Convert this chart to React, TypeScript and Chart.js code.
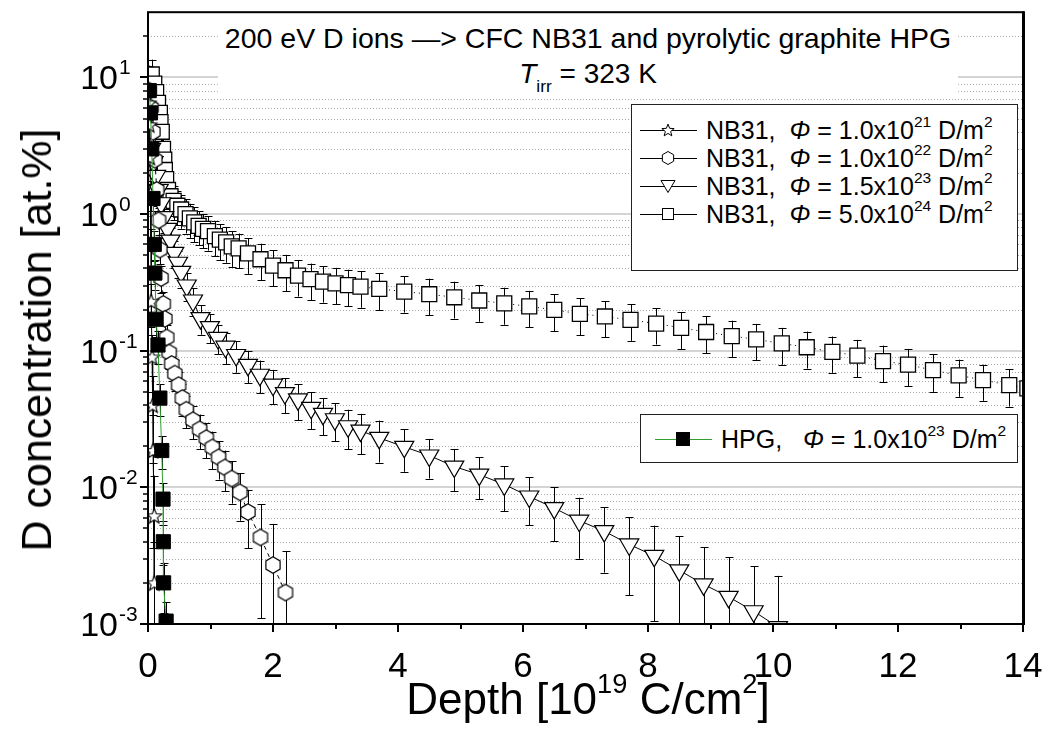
import React, { useEffect, useRef } from 'react';
import { Chart, registerables } from 'chart.js';
Chart.register(...registerables);

// ---------- data ----------
// NB31, Φ = 1.0x10^21 D/m^2 (stars)
const X_NB31_21 = [0.01, 0.02, 0.03, 0.04, 0.045, 0.05, 0.065, 0.075, 0.08, 0.1, 0.1];
const Y_NB31_21 = [6.5, 4.5, 2.6, 1.4, 0.6, 0.23, 0.09, 0.04, 0.0186, 0.0062, 0.002];
const E_NB31_21 = [1.5, 1.0, 0.6, 0.35, 0.18, 0.08, 0.04, 0.025, 0.015, 0.006, 0.002];

// NB31, Φ = 1.0x10^22 D/m^2 (hexagons)
const X_NB31_22 = [0.02, 0.05, 0.08, 0.11, 0.14, 0.17, 0.19, 0.21, 0.245, 0.27, 0.3, 0.34, 0.38, 0.43, 0.49, 0.55, 0.614, 0.72, 0.827, 0.934, 1.03, 1.13, 1.23, 1.34, 1.47, 1.6, 1.8, 2.0, 2.2];
const Y_NB31_22 = [8, 6, 4, 2.5, 1.5, 0.9, 0.55, 0.34, 0.22, 0.171, 0.125, 0.097, 0.08, 0.068, 0.056, 0.045, 0.037, 0.031, 0.0266, 0.0229, 0.0196, 0.0166, 0.014, 0.0116, 0.0092, 0.0066, 0.0043, 0.0027, 0.0017];
const E_NB31_22 = [2, 1.5, 1, 0.6, 0.35, 0.2, 0.12, 0.075, 0.05, 0.04, 0.03, 0.024, 0.02, 0.017, 0.014, 0.012, 0.01, 0.0085, 0.0075, 0.0066, 0.006, 0.0052, 0.0046, 0.004, 0.0035, 0.003, 0.0032, 0.0027, 0.0017];

// NB31, Φ = 1.5x10^23 D/m^2 (down triangles)
const X_NB31_23 = [0.02, 0.05, 0.09, 0.13, 0.17, 0.21, 0.26, 0.31, 0.36, 0.42, 0.48, 0.53, 0.62, 0.72, 0.84, 0.99, 1.12, 1.24, 1.41, 1.6, 1.79, 2.0, 2.19, 2.4, 2.61, 2.8, 2.99, 3.2, 3.4, 3.7, 4.1, 4.5, 4.9, 5.3, 5.7, 6.1, 6.5, 6.9, 7.3, 7.7, 8.1, 8.5, 8.89, 9.29, 9.69, 10.08];
const Y_NB31_23 = [3.5, 3.0, 2.4, 1.9, 1.5, 1.2, 0.95, 0.78, 0.64, 0.52, 0.44, 0.378, 0.3, 0.233, 0.173, 0.149, 0.124, 0.107, 0.093, 0.0787, 0.0667, 0.0564, 0.049, 0.044, 0.0382, 0.0345, 0.0315, 0.028, 0.026, 0.023, 0.0198, 0.0171, 0.0142, 0.0124, 0.0105, 0.00857, 0.00705, 0.0057, 0.00478, 0.00382, 0.00315, 0.00247, 0.00195, 0.00158, 0.00124, 0.00095];
const E_NB31_23 = [0.8, 0.7, 0.55, 0.45, 0.35, 0.28, 0.22, 0.18, 0.15, 0.12, 0.1, 0.09, 0.07, 0.055, 0.042, 0.036, 0.03, 0.027, 0.024, 0.021, 0.018, 0.016, 0.014, 0.013, 0.0115, 0.0105, 0.0097, 0.009, 0.0085, 0.0078, 0.0068, 0.0055, 0.0048, 0.0042, 0.0038, 0.0033, 0.003, 0.0027, 0.0024, 0.0022, 0.0021, 0.0019, 0.0017, 0.0015, 0.0014, 0.0013];

// NB31, Φ = 5.0x10^24 D/m^2 (squares)
const X_NB31_24 = [0.02, 0.06, 0.1, 0.13, 0.16, 0.19, 0.2, 0.22, 0.24, 0.26, 0.27, 0.29, 0.32, 0.36, 0.41, 0.47, 0.53, 0.6, 0.67, 0.74, 0.81, 0.88, 0.96, 1.07, 1.15, 1.25, 1.34, 1.45, 1.6, 1.8, 2.0, 2.2, 2.4, 2.6, 2.8, 3.0, 3.2, 3.4, 3.7, 4.1, 4.5, 4.9, 5.3, 5.7, 6.1, 6.5, 6.91, 7.31, 7.72, 8.13, 8.53, 8.93, 9.34, 9.73, 10.14, 10.54, 10.95, 11.35, 11.76, 12.16, 12.56, 12.97, 13.36, 13.78, 14.07];
const Y_NB31_24 = [9.5, 10.5, 9.0, 7.8, 6.5, 5.5, 4.7, 4.0, 3.0, 2.5, 2.1, 1.8, 1.5, 1.35, 1.25, 1.15, 1.08, 1.0, 0.93, 0.87, 0.82, 0.78, 0.75, 0.69, 0.65, 0.62, 0.58, 0.56, 0.515, 0.467, 0.42, 0.388, 0.354, 0.334, 0.32, 0.311, 0.302, 0.294, 0.283, 0.271, 0.259, 0.246, 0.233, 0.222, 0.211, 0.199, 0.186, 0.178, 0.168, 0.158, 0.147, 0.137, 0.128, 0.121, 0.113, 0.106, 0.098, 0.092, 0.084, 0.079, 0.072, 0.066, 0.061, 0.056, 0.053];
const E_NB31_24 = [2.7, 3.0, 2.5, 2.2, 1.8, 1.5, 1.3, 1.1, 0.85, 0.7, 0.6, 0.5, 0.42, 0.38, 0.35, 0.32, 0.3, 0.28, 0.26, 0.25, 0.23, 0.22, 0.21, 0.2, 0.19, 0.18, 0.17, 0.16, 0.15, 0.14, 0.125, 0.115, 0.105, 0.1, 0.095, 0.093, 0.09, 0.088, 0.085, 0.081, 0.078, 0.074, 0.07, 0.067, 0.063, 0.06, 0.056, 0.053, 0.05, 0.047, 0.044, 0.041, 0.038, 0.036, 0.034, 0.032, 0.029, 0.028, 0.025, 0.024, 0.022, 0.02, 0.018, 0.017, 0.016];

// HPG, Φ = 1.0x10^23 D/m^2 (filled squares)
const X_HPG = [0.02, 0.04, 0.06, 0.08, 0.1, 0.11, 0.13, 0.16, 0.19, 0.22, 0.24, 0.245, 0.25, 0.29];
const Y_HPG = [8, 5.5, 3, 1.3, 0.6, 0.37, 0.17, 0.11, 0.045, 0.0186, 0.0082, 0.004, 0.002, 0.00105];
const E_HPG = [2, 1.4, 0.75, 0.33, 0.15, 0.09, 0.045, 0.03, 0.012, 0.005, 0.0025, 0.0013, 0.0008, 0.0004];

// axes
const X_MIN = 0;
const X_MAX = 14;
const Y_MIN = 0.001;
const Y_MAX = 30;
const X_MAJOR_TICKS = [0, 2, 4, 6, 8, 10, 12, 14];
const X_TICK_LABELS = ['0', '2', '4', '6', '8', '10', '12', '14'];
const X_MINOR_TICKS = [1, 3, 5, 7, 9, 11, 13];
const Y_DECADES = [0.001, 0.01, 0.1, 1, 10];
const Y_TICK_EXPONENTS = ['-3', '-2', '-1', '0', '1'];
const Y_MINOR_MULTIPLIERS = [2, 3, 4, 5, 6, 7, 8, 9];

const FONT = '"Liberation Sans", Arial, Helvetica, sans-serif';
const GREEN = '#2ea02e';

const SERIES_ERR = [
  { x: X_HPG, y: Y_HPG, e: E_HPG, color: '#000' },
  { x: X_NB31_21, y: Y_NB31_21, e: E_NB31_21, color: '#000' },
  { x: X_NB31_22, y: Y_NB31_22, e: E_NB31_22, color: '#000' },
  { x: X_NB31_23, y: Y_NB31_23, e: E_NB31_23, color: '#000' },
  { x: X_NB31_24, y: Y_NB31_24, e: E_NB31_24, color: '#000' },
];

function pts(xs: number[], ys: number[]) {
  return xs.map((x, i) => ({ x, y: ys[i] }));
}

function makeHexImage(r: number) {
  const s = Math.ceil(r * 2 + 3);
  const c = document.createElement('canvas');
  c.width = s;
  c.height = s;
  const g = c.getContext('2d')!;
  g.beginPath();
  for (let k = 0; k < 6; k++) {
    const a = -Math.PI / 2 + (k * Math.PI) / 3;
    const px = s / 2 + r * Math.cos(a);
    const py = s / 2 + r * Math.sin(a);
    if (k === 0) g.moveTo(px, py);
    else g.lineTo(px, py);
  }
  g.closePath();
  g.fillStyle = '#fff';
  g.fill();
  g.strokeStyle = '#000';
  g.lineWidth = 1.2;
  g.stroke();
  return c;
}

function makeStarImage(ro: number, ri: number) {
  const s = Math.ceil(ro * 2 + 3);
  const c = document.createElement('canvas');
  c.width = s;
  c.height = s;
  const g = c.getContext('2d')!;
  g.beginPath();
  for (let k = 0; k < 10; k++) {
    const r = k % 2 === 0 ? ro : ri;
    const a = -Math.PI / 2 + (k * Math.PI) / 5;
    const px = s / 2 + r * Math.cos(a);
    const py = s / 2 + 0.8 + r * Math.sin(a);
    if (k === 0) g.moveTo(px, py);
    else g.lineTo(px, py);
  }
  g.closePath();
  g.fillStyle = '#fff';
  g.fill();
  g.strokeStyle = '#000';
  g.lineWidth = 1.1;
  g.stroke();
  return c;
}

const backgroundPlugin = {
  id: 'gridAndErrors',
  beforeDatasetsDraw(chart: any) {
    const { ctx, chartArea: a, scales } = chart;
    const xs = scales.x;
    const ys = scales.y;
    ctx.save();
    // minor grid
    ctx.setLineDash([1, 2]);
    ctx.strokeStyle = '#a9a9a9';
    ctx.lineWidth = 1;
    Y_DECADES.forEach((d) => {
      Y_MINOR_MULTIPLIERS.forEach((m) => {
        const v = d * m;
        if (v >= Y_MAX) return;
        const py = Math.round(ys.getPixelForValue(v)) + 0.5;
        ctx.beginPath();
        ctx.moveTo(a.left, py);
        ctx.lineTo(a.right, py);
        ctx.stroke();
      });
    });
    // major grid
    ctx.setLineDash([]);
    ctx.strokeStyle = '#d4d4d4';
    ctx.lineWidth = 2;
    Y_DECADES.forEach((d) => {
      if (d <= Y_MIN) return;
      const py = Math.round(ys.getPixelForValue(d));
      ctx.beginPath();
      ctx.moveTo(a.left, py);
      ctx.lineTo(a.right, py);
      ctx.stroke();
    });
    // error bars
    ctx.beginPath();
    ctx.rect(a.left, a.top, a.width, a.height);
    ctx.clip();
    ctx.lineWidth = 1;
    SERIES_ERR.forEach((s) => {
      ctx.strokeStyle = s.color;
      s.x.forEach((xv, i) => {
        const v = s.y[i];
        const e = s.e[i];
        const px = Math.round(xs.getPixelForValue(xv)) + 0.5;
        const top = ys.getPixelForValue(v + e);
        const lo = v - e;
        const bot = lo > 0 ? ys.getPixelForValue(lo) : a.bottom + 20;
        ctx.beginPath();
        ctx.moveTo(px, top);
        ctx.lineTo(px, bot);
        ctx.moveTo(px - 4, Math.round(top) + 0.5);
        ctx.lineTo(px + 4, Math.round(top) + 0.5);
        if (lo > 0) {
          ctx.moveTo(px - 4, Math.round(bot) + 0.5);
          ctx.lineTo(px + 4, Math.round(bot) + 0.5);
        }
        ctx.stroke();
      });
    });
    ctx.restore();
  },
};

const framePlugin = {
  id: 'frameTicks',
  afterDatasetsDraw(chart: any) {
    const { ctx, chartArea: a, scales } = chart;
    const xs = scales.x;
    const ys = scales.y;
    ctx.save();
    ctx.strokeStyle = '#000';
    ctx.lineWidth = 2;
    ctx.strokeRect(a.left, a.top, a.right - a.left, a.bottom - a.top);
    ctx.lineWidth = 3;
    ctx.beginPath();
    ctx.moveTo(a.right + 0.5, a.top - 1);
    ctx.lineTo(a.right + 0.5, a.bottom + 1);
    ctx.stroke();
    // y ticks
    Y_DECADES.forEach((d) => {
      const py = Math.round(ys.getPixelForValue(d));
      ctx.lineWidth = 2;
      ctx.beginPath();
      ctx.moveTo(a.left - 8, py);
      ctx.lineTo(a.left, py);
      ctx.stroke();
      Y_MINOR_MULTIPLIERS.forEach((m) => {
        const v = d * m;
        if (v >= Y_MAX) return;
        const p = Math.round(ys.getPixelForValue(v));
        ctx.lineWidth = 1.5;
        ctx.beginPath();
        ctx.moveTo(a.left - 5, p);
        ctx.lineTo(a.left, p);
        ctx.stroke();
      });
    });
    // x ticks
    X_MAJOR_TICKS.forEach((t) => {
      const px = Math.round(xs.getPixelForValue(t));
      ctx.lineWidth = 2;
      ctx.beginPath();
      ctx.moveTo(px, a.bottom);
      ctx.lineTo(px, a.bottom + 8);
      ctx.stroke();
    });
    X_MINOR_TICKS.forEach((t) => {
      const px = Math.round(xs.getPixelForValue(t));
      ctx.lineWidth = 2;
      ctx.beginPath();
      ctx.moveTo(px, a.bottom);
      ctx.lineTo(px, a.bottom + 5);
      ctx.stroke();
    });
    // labels
    ctx.fillStyle = '#000';
    ctx.textBaseline = 'alphabetic';
    ctx.font = `35px ${FONT}`;
    ctx.textAlign = 'center';
    X_MAJOR_TICKS.forEach((t, i) => {
      ctx.fillText(X_TICK_LABELS[i], xs.getPixelForValue(t), a.bottom + 53);
    });
    Y_DECADES.forEach((d, i) => {
      const py = ys.getPixelForValue(d);
      ctx.font = `34px ${FONT}`;
      ctx.textAlign = 'right';
      ctx.fillText('10', 118, py + 12);
      ctx.font = `21px ${FONT}`;
      ctx.textAlign = 'left';
      ctx.fillText(Y_TICK_EXPONENTS[i], 119, py - 3);
    });
    ctx.restore();
  },
};

const Sup = ({ children }: any) => (
  <span style={{ fontSize: '0.62em', position: 'relative', top: '-0.78em' }}>{children}</span>
);
const Sub = ({ children }: any) => (
  <span style={{ fontSize: '0.62em', position: 'relative', top: '0.5em' }}>{children}</span>
);

function LegendMarker({ kind }: { kind: string }) {
  const cx = 33;
  const cy = 10;
  let marker: any = null;
  if (kind === 'star') {
    const p: string[] = [];
    for (let k = 0; k < 10; k++) {
      const r = k % 2 === 0 ? 6.5 : 2.8;
      const a = -Math.PI / 2 + (k * Math.PI) / 5;
      p.push(`${cx + r * Math.cos(a)},${cy + 0.6 + r * Math.sin(a)}`);
    }
    marker = <polygon points={p.join(' ')} fill="#fff" stroke="#000" strokeWidth={1} />;
  } else if (kind === 'hex') {
    const p: string[] = [];
    for (let k = 0; k < 6; k++) {
      const a = -Math.PI / 2 + (k * Math.PI) / 3;
      p.push(`${cx + 6.5 * Math.cos(a)},${cy + 6.5 * Math.sin(a)}`);
    }
    marker = <polygon points={p.join(' ')} fill="#fff" stroke="#000" strokeWidth={1} />;
  } else if (kind === 'tri') {
    marker = (
      <polygon
        points={`${cx - 7},${cy - 5.5} ${cx + 7},${cy - 5.5} ${cx},${cy + 6.5}`}
        fill="#fff"
        stroke="#000"
        strokeWidth={1}
      />
    );
  } else if (kind === 'sq') {
    marker = <rect x={cx - 5.5} y={cy - 5.5} width={11} height={11} fill="#fff" stroke="#000" strokeWidth={1} />;
  } else {
    marker = <rect x={cx - 7} y={cy - 7} width={14} height={14} fill="#000" />;
  }
  const lineColor = kind === 'hpg' ? GREEN : '#000';
  return (
    <svg width={70} height={20} style={{ position: 'absolute', left: 0, top: 0 }}>
      <line x1={5} y1={cy + 0.5} x2={62} y2={cy + 0.5} stroke={lineColor} strokeWidth={1.2} />
      {marker}
    </svg>
  );
}

function LegendRow({ kind, top, left, children }: any) {
  return (
    <div style={{ position: 'absolute', left, top, height: 30, width: 390 }}>
      <div style={{ position: 'absolute', left: 0, top: 5, width: 70, height: 20 }}>
        <LegendMarker kind={kind} />
      </div>
      <div
        style={{
          position: 'absolute',
          left: 71,
          top: 0,
          fontSize: 25,
          lineHeight: '30px',
          whiteSpace: 'pre',
          color: '#000',
        }}
      >
        {children}
      </div>
    </div>
  );
}

export default function App() {
  const ref = useRef<HTMLCanvasElement>(null);
  useEffect(() => {
    const canvas = ref.current!;
    const hexImg = makeHexImage(8.2);
    const starImg = makeStarImage(8, 3.4);
    const chart = new Chart(canvas, {
      type: 'scatter',
      data: {
        datasets: [
          {
            label: 'HPG, Φ = 1.0x10^23 D/m^2',
            data: pts(X_HPG, Y_HPG),
            showLine: true,
            borderColor: GREEN,
            borderWidth: 1,
            pointStyle: 'rect',
            pointRadius: 10,
            pointBackgroundColor: '#000',
            pointBorderColor: '#000',
            pointBorderWidth: 1,
          },
          {
            label: 'NB31, Φ = 1.0x10^21 D/m^2',
            data: pts(X_NB31_21, Y_NB31_21),
            showLine: true,
            borderColor: '#000',
            borderWidth: 1,
            pointStyle: starImg,
            pointRadius: 8,
          },
          {
            label: 'NB31, Φ = 1.0x10^22 D/m^2',
            data: pts(X_NB31_22, Y_NB31_22),
            showLine: true,
            borderColor: '#000',
            borderWidth: 1,
            borderDash: [4, 4],
            pointStyle: hexImg,
            pointRadius: 8,
          },
          {
            label: 'NB31, Φ = 1.5x10^23 D/m^2',
            data: pts(X_NB31_23, Y_NB31_23),
            showLine: true,
            borderColor: '#000',
            borderWidth: 1,
            pointStyle: 'triangle',
            pointRotation: 180,
            pointRadius: 11,
            pointBackgroundColor: '#fff',
            pointBorderColor: '#000',
            pointBorderWidth: 1.2,
          },
          {
            label: 'NB31, Φ = 5.0x10^24 D/m^2',
            data: pts(X_NB31_24, Y_NB31_24),
            showLine: true,
            borderColor: '#000',
            borderWidth: 1,
            borderDash: [1, 4],
            pointStyle: 'rect',
            pointRadius: 10.6,
            pointBackgroundColor: '#fff',
            pointBorderColor: '#000',
            pointBorderWidth: 1.3,
          },
        ],
      },
      options: {
        responsive: false,
        animation: false,
        devicePixelRatio: 1,
        events: [],
        layout: { padding: { left: 148, top: 7, right: 25, bottom: 125 } },
        plugins: {
          legend: { display: false },
          tooltip: { enabled: false },
          title: { display: false },
        },
        scales: {
          x: { type: 'linear', min: X_MIN, max: X_MAX, display: false },
          y: { type: 'logarithmic', min: Y_MIN, max: Y_MAX, display: false },
        },
      } as any,
      plugins: [backgroundPlugin, framePlugin],
    } as any);
    return () => chart.destroy();
  }, []);

  const rowTop = [115, 143, 171, 199];
  return (
    <div
      style={{
        position: 'fixed',
        left: 0,
        top: 0,
        width: 1048,
        height: 749,
        background: '#fff',
        fontFamily: FONT,
        color: '#000',
        overflow: 'hidden',
      }}
    >
      <canvas ref={ref} width={1048} height={749} style={{ position: 'absolute', left: 0, top: 0 }} />

      {/* title */}
      <div
        style={{
          position: 'absolute',
          left: 218,
          top: 16,
          width: 740,
          height: 82,
          background: '#fff',
        }}
      >
        <div style={{ position: 'absolute', left: 0, top: 7, width: 740, textAlign: 'center', fontSize: 28.5, lineHeight: '30px', whiteSpace: 'nowrap' }}>
          200 eV D ions —&gt; CFC NB31 and pyrolytic graphite HPG
        </div>
        <div style={{ position: 'absolute', left: 0, top: 43, width: 740, textAlign: 'center', fontSize: 28, lineHeight: '30px', whiteSpace: 'nowrap' }}>
          <i>T</i>
          <Sub>irr</Sub> = 323 K
        </div>
      </div>

      {/* legend 1 */}
      <div
        style={{
          position: 'absolute',
          left: 631,
          top: 104,
          width: 387,
          height: 167,
          boxSizing: 'border-box',
          border: '1px solid #222',
          background: '#fff',
        }}
      />
      <LegendRow kind="star" left={635} top={rowTop[0]}>
        NB31,  <i>Φ</i> = 1.0x10<Sup>21</Sup> D/m<Sup>2</Sup>
      </LegendRow>
      <LegendRow kind="hex" left={635} top={rowTop[1]}>
        NB31,  <i>Φ</i> = 1.0x10<Sup>22</Sup> D/m<Sup>2</Sup>
      </LegendRow>
      <LegendRow kind="tri" left={635} top={rowTop[2]}>
        NB31,  <i>Φ</i> = 1.5x10<Sup>23</Sup> D/m<Sup>2</Sup>
      </LegendRow>
      <LegendRow kind="sq" left={635} top={rowTop[3]}>
        NB31,  <i>Φ</i> = 5.0x10<Sup>24</Sup> D/m<Sup>2</Sup>
      </LegendRow>

      {/* legend 2 */}
      <div
        style={{
          position: 'absolute',
          left: 640,
          top: 414,
          width: 378,
          height: 49,
          boxSizing: 'border-box',
          border: '1px solid #222',
          background: '#fff',
        }}
      />
      <LegendRow kind="hpg" left={650} top={424}>
        HPG,   <i>Φ</i> = 1.0x10<Sup>23</Sup> D/m<Sup>2</Sup>
      </LegendRow>

      {/* axis titles */}
      <div
        style={{
          position: 'absolute',
          left: 588,
          top: 674,
          transform: 'translateX(-50%)',
          fontSize: 44,
          lineHeight: '50px',
          whiteSpace: 'nowrap',
        }}
      >
        Depth [10<Sup>19</Sup> C/cm<Sup>2</Sup>]
      </div>
      <div
        style={{
          position: 'absolute',
          left: 36,
          top: 340,
          transform: 'translate(-50%, -50%) rotate(-90deg)',
          fontSize: 43,
          lineHeight: '48px',
          whiteSpace: 'nowrap',
        }}
      >
        D concentration [at.%]
      </div>
    </div>
  );
}
